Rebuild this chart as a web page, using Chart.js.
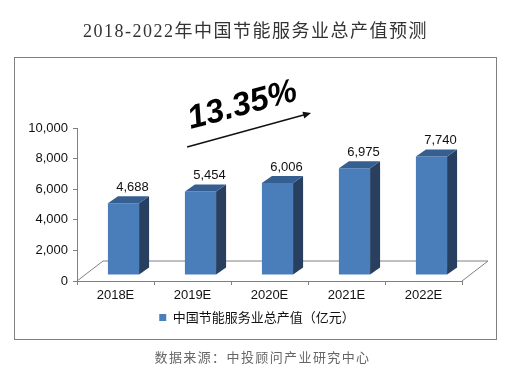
<!DOCTYPE html>
<html>
<head>
<meta charset="utf-8">
<script src="https://cdn.jsdelivr.net/npm/chart.js@4"></script>
<style>
  html, body { margin: 0; padding: 0; background: #fff; }
  #page { position: relative; width: 507px; height: 378px; overflow: hidden; }
  #frame { position: absolute; left: 14px; top: 57px; width: 481px; height: 281px; border: 1px solid #808080; }
  #title { position: absolute; left: 0; top: 20px; width: 511px; text-align: center; color: #333;
           font: 18px/22px "Liberation Serif", "Noto Sans CJK SC", serif; letter-spacing: 1.5px; }
  #source { position: absolute; left: 0; top: 348px; width: 525px; text-align: center; color: #666;
            font: 13px/18px "Noto Sans CJK SC", sans-serif; letter-spacing: 1.4px; }
  canvas { position: absolute; left: 0; top: 0; }
</style>
</head>
<body>
<div id="page">
  <div id="frame"></div>
  <canvas id="chart" width="507" height="378"></canvas>
  <div id="title">2018-2022年中国节能服务业总产值预测</div>
  <div id="source">数据来源：中投顾问产业研究中心</div>
</div>
<script>
const categories = ["2018E", "2019E", "2020E", "2021E", "2022E"];
const values = [4688, 5454, 6006, 6975, 7740];
const seriesName = "中国节能服务业总产值（亿元）";
const yTicks = [0, 2000, 4000, 6000, 8000, 10000];

// growth arrow, in category index / axis value
const growthLabel = "13.35%";
const arrowStart = [0.93, 8760];
const arrowEnd = [2.54, 10980];
const growthLabelAt = [1.65, 11460];

// fake 3D look
const barShift = { x: 8, y: -6 };
const barDepth = { x: 10, y: -7 };
const floorDepth = { x: 26, y: -20 };

function point(chart, at) {
  return { x: chart.scales.x.getPixelForValue(at[0]), y: chart.scales.y.getPixelForValue(at[1]) };
}

const floorPlugin = {
  id: "floor",
  // the legend sits a bit right of the plot centre in the original
  afterLayout(chart) {
    chart.legend.left += 32;
  },
  beforeDatasetsDraw(chart) {
    const { left, right, bottom } = chart.chartArea;
    const ctx = chart.ctx;
    ctx.save();
    ctx.strokeStyle = "#808080";
    ctx.lineWidth = 1;
    ctx.beginPath();
    ctx.moveTo(left, bottom);
    ctx.lineTo(left + floorDepth.x, bottom + floorDepth.y);
    ctx.lineTo(right + floorDepth.x, bottom + floorDepth.y);
    ctx.lineTo(right, bottom);
    ctx.stroke();
    ctx.restore();
  }
};

const bar3dPlugin = {
  id: "bar3d",
  beforeDatasetDraw(chart) {
    chart.ctx.save();
    chart.ctx.translate(barShift.x, barShift.y);
  },
  afterDatasetDraw(chart, args) {
    const ctx = chart.ctx;
    args.meta.data.forEach((bar, i) => {
      const l = bar.x - bar.width / 2;
      const r = bar.x + bar.width / 2;
      const d = barDepth;

      // side
      ctx.fillStyle = "#283f60";
      ctx.beginPath();
      ctx.moveTo(r, bar.y);
      ctx.lineTo(r + d.x, bar.y + d.y);
      ctx.lineTo(r + d.x, bar.base + d.y);
      ctx.lineTo(r, bar.base);
      ctx.closePath();
      ctx.fill();

      // top
      ctx.fillStyle = "#365f91";
      ctx.beginPath();
      ctx.moveTo(l, bar.y);
      ctx.lineTo(l + d.x, bar.y + d.y);
      ctx.lineTo(r + d.x, bar.y + d.y);
      ctx.lineTo(r, bar.y);
      ctx.closePath();
      ctx.fill();

      // value label
      ctx.fillStyle = "#111";
      ctx.font = '13px "Liberation Sans", Arial, sans-serif';
      ctx.textAlign = "center";
      ctx.textBaseline = "middle";
      ctx.fillText(values[i].toLocaleString("en-US"), bar.x + d.x - 1, bar.y + d.y - 9);
    });
    ctx.restore();
  }
};

const growthPlugin = {
  id: "growth",
  afterDraw(chart) {
    const ctx = chart.ctx;
    const a = point(chart, arrowStart);
    const b = point(chart, arrowEnd);
    const angle = Math.atan2(b.y - a.y, b.x - a.x);
    ctx.save();
    ctx.strokeStyle = "#111";
    ctx.fillStyle = "#111";
    ctx.lineWidth = 1.5;
    ctx.beginPath();
    ctx.moveTo(a.x, a.y);
    ctx.lineTo(b.x - 4 * Math.cos(angle), b.y - 4 * Math.sin(angle));
    ctx.stroke();
    ctx.translate(b.x, b.y);
    ctx.rotate(angle);
    ctx.beginPath();
    ctx.moveTo(0, 0);
    ctx.lineTo(-8, -3.5);
    ctx.lineTo(-8, 3.5);
    ctx.closePath();
    ctx.fill();
    ctx.restore();

    const t = point(chart, growthLabelAt);
    ctx.save();
    ctx.translate(t.x, t.y);
    ctx.rotate(-15 * Math.PI / 180);
    ctx.fillStyle = "#000";
    ctx.font = 'italic bold 33px "Liberation Sans", Arial, sans-serif';
    ctx.textAlign = "center";
    ctx.textBaseline = "middle";
    ctx.fillText(growthLabel, 0, 0);
    ctx.restore();
  }
};

new Chart(document.getElementById("chart"), {
  type: "bar",
  data: {
    labels: categories,
    datasets: [{
      label: seriesName,
      data: values,
      backgroundColor: "#4a7ebb",
      barPercentage: 0.405,
      categoryPercentage: 1,
      clip: false
    }]
  },
  plugins: [floorPlugin, bar3dPlugin, growthPlugin],
  options: {
    responsive: false,
    animation: false,
    layout: { padding: { left: 20, top: 128, right: 45, bottom: 44 } },
    plugins: {
      tooltip: { enabled: false },
      legend: {
        position: "bottom",
        labels: {
          boxWidth: 7,
          boxHeight: 7,
          padding: 6,
          color: "#111",
          font: { family: '"Noto Sans CJK SC", sans-serif', size: 13 }
        }
      }
    },
    scales: {
      x: {
        afterFit(scale) { scale.height = 24; },
        grid: { drawOnChartArea: false, color: "#808080", tickLength: 4 },
        border: { color: "#808080" },
        ticks: { color: "#111", padding: 3, maxRotation: 0, font: { family: '"Liberation Sans", Arial, sans-serif', size: 13 } }
      },
      y: {
        min: 0,
        max: 10000,
        afterBuildTicks(scale) { scale.ticks = yTicks.map(v => ({ value: v })); },
        afterFit(scale) { scale.width = 57; },
        grid: { drawOnChartArea: false, color: "#808080", tickLength: 4 },
        border: { color: "#808080" },
        ticks: {
          color: "#111",
          padding: 5,
          callback: v => v.toLocaleString("en-US"),
          font: { family: '"Liberation Sans", Arial, sans-serif', size: 13 }
        }
      }
    }
  }
});
</script>
</body>
</html>
